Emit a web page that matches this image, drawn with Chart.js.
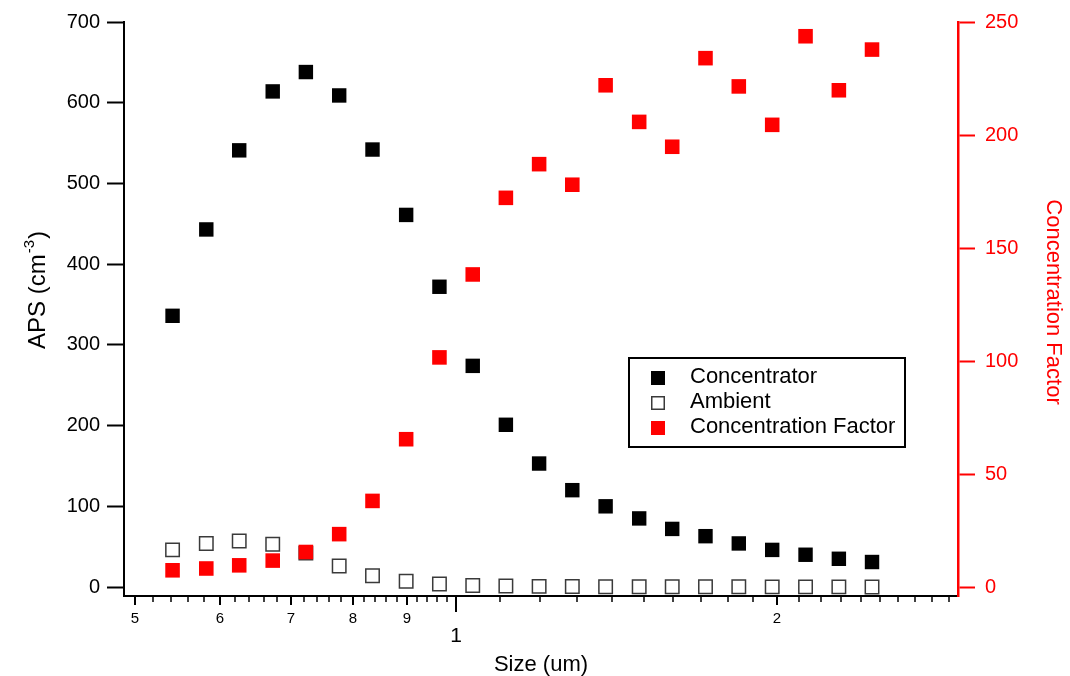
<!DOCTYPE html>
<html>
<head>
<meta charset="utf-8">
<script src="https://cdn.jsdelivr.net/npm/chart.js@4/dist/chart.umd.min.js"></script>
<style>
  html, body { margin: 0; padding: 0; background: #fff; }
  #wrap { width: 1070px; height: 676px; position: relative; }
</style>
</head>
<body>
<div id="wrap"><canvas id="c" width="1070" height="676"></canvas></div>
<script>
// Aerodynamic size channels (um)
const sizes = [0.542, 0.583, 0.626, 0.673, 0.723, 0.777, 0.835, 0.898, 0.965, 1.037, 1.114,
               1.197, 1.286, 1.382, 1.486, 1.596, 1.715, 1.843, 1.981, 2.129, 2.288, 2.458];
// Number concentrations (cm^-3)
const concentrator = [336, 443, 541, 614, 638, 609, 542, 461, 372, 274, 201,
                      153, 120, 100, 85, 72, 63, 54, 46, 40, 35, 31];
const ambient = [46, 54, 57, 53, 42, 26, 14, 7.1, 3.7, 2.0, 1.17,
                 0.82, 0.67, 0.45, 0.41, 0.37, 0.27, 0.24, 0.22, 0.16, 0.16, 0.13];
// Concentrator / ambient ratio
const concFactor = [7.4, 8.2, 9.6, 11.7, 15.5, 23.4, 38.1, 65.4, 101.6, 138.3, 172.2,
                    187.1, 178.0, 222.0, 205.8, 194.8, 234.0, 221.5, 204.5, 243.7, 219.8, 237.8];

// Axis tick values and labels
const apsTicks = [0, 100, 200, 300, 400, 500, 600, 700];
const factorTicks = [0, 50, 100, 150, 200, 250];
const sizeTickLabels = [[0.5, '5'], [0.6, '6'], [0.7, '7'], [0.8, '8'], [0.9, '9'], [1, '1'], [2, '2']];

const FONT = '"Liberation Sans", Arial, Helvetica, sans-serif';
const RED = '#ff0000';

// minor ticks on the log size axis: 0.02 steps below 1, 0.1 steps above
const sizeMinorTicks = [];
for (let i = 26; i < 50; i++) sizeMinorTicks.push(i / 50);
for (let i = 11; i < 30; i++) sizeMinorTicks.push(i / 10);

const toXY = (ys) => sizes.map((x, i) => ({ x: x, y: ys[i] }));

// Draws the log-size axis ticks, axis titles and the boxed legend
const decorations = {
  id: 'decorations',
  afterDraw(chart) {
    const ctx = chart.ctx;
    const xs = chart.scales.x;
    const area = chart.chartArea;
    const axisY = area.bottom;
    ctx.save();

    // size axis ticks
    ctx.strokeStyle = '#000';
    const labelled = sizeTickLabels.map(d => d[0]);
    sizeMinorTicks.forEach(v => {
      if (labelled.some(l => Math.abs(l - v) < 1e-6)) return;
      const px = Math.round(xs.getPixelForValue(v));
      ctx.lineWidth = 1.5;
      ctx.beginPath(); ctx.moveTo(px, axisY); ctx.lineTo(px, axisY + 6); ctx.stroke();
    });
    sizeTickLabels.forEach(([v, t]) => {
      const px = Math.round(xs.getPixelForValue(v));
      const big = (v === 1);
      ctx.lineWidth = 2;
      ctx.beginPath(); ctx.moveTo(px, axisY); ctx.lineTo(px, axisY + (big ? 16 : 9)); ctx.stroke();
      ctx.fillStyle = '#000';
      ctx.textAlign = 'center';
      ctx.textBaseline = 'alphabetic';
      ctx.font = (big ? 21 : 15) + 'px ' + FONT;
      ctx.fillText(t, px, big ? 642 : 623);
    });

    // bottom title
    ctx.font = '22px ' + FONT;
    ctx.fillStyle = '#000';
    ctx.textAlign = 'center';
    ctx.fillText('Size (um)', (area.left + area.right) / 2, 671);

    // left title with superscript
    ctx.save();
    ctx.translate(45, 291);
    ctx.rotate(-Math.PI / 2);
    ctx.textAlign = 'left';
    const partA = 'APS (cm', sup = '-3', partB = ')';
    ctx.font = '24px ' + FONT;
    const wA = ctx.measureText(partA).width, wB = ctx.measureText(partB).width;
    ctx.font = '15px ' + FONT;
    const wS = ctx.measureText(sup).width;
    let x0 = -(wA + wS + wB) / 2;
    ctx.font = '24px ' + FONT;
    ctx.fillText(partA, x0, 0);
    ctx.font = '15px ' + FONT;
    ctx.fillText(sup, x0 + wA + 1, -11);
    ctx.font = '24px ' + FONT;
    ctx.fillText(partB, x0 + wA + wS + 2, 0);
    ctx.restore();

    // right title
    ctx.save();
    ctx.translate(1047, 302);
    ctx.rotate(Math.PI / 2);
    ctx.textAlign = 'center';
    ctx.fillStyle = RED;
    ctx.font = '22px ' + FONT;
    ctx.fillText('Concentration Factor', 0, 0);
    ctx.restore();

    // legend box
    const box = { x: 629, y: 358, w: 276, h: 89 };
    ctx.lineWidth = 2;
    ctx.strokeStyle = '#000';
    ctx.strokeRect(box.x, box.y, box.w, box.h);
    const rows = [377, 402, 427];
    chart.data.datasets.forEach((ds, i) => {
      const cy = rows[i] + 1;
      const cx = 658;
      if (ds.borderWidth > 0) {
        const s = 12.5;
        ctx.lineWidth = ds.borderWidth;
        ctx.strokeStyle = ds.borderColor;
        ctx.strokeRect(cx - s / 2, cy - s / 2, s, s);
      } else {
        const s = 14;
        ctx.fillStyle = ds.backgroundColor;
        ctx.fillRect(cx - s / 2, cy - s / 2, s, s);
      }
      ctx.fillStyle = '#000';
      ctx.font = '22px ' + FONT;
      ctx.textAlign = 'left';
      ctx.textBaseline = 'middle';
      ctx.fillText(ds.label, 690, rows[i]);
    });
    ctx.restore();
  }
};

new Chart(document.getElementById('c'), {
  type: 'scatter',
  data: {
    datasets: [
      { label: 'Concentrator', data: toXY(concentrator), yAxisID: 'y', order: 2,
        pointStyle: 'rect', pointRadius: 10.2, backgroundColor: '#000', borderWidth: 0 },
      { label: 'Ambient', data: toXY(ambient), yAxisID: 'y', order: 1,
        pointStyle: 'rect', pointRadius: 9.5, backgroundColor: 'rgba(255,255,255,0)',
        borderColor: '#3a3a3a', borderWidth: 1.5 },
      { label: 'Concentration Factor', data: toXY(concFactor), yAxisID: 'y1', order: 0,
        pointStyle: 'rect', pointRadius: 10.3, backgroundColor: RED, borderWidth: 0 }
    ]
  },
  options: {
    responsive: false,
    animation: false,
    events: [],
    layout: { padding: { top: 20, left: 0, right: 0, bottom: 0 } },
    plugins: { legend: { display: false }, tooltip: { enabled: false } },
    scales: {
      x: {
        type: 'logarithmic', position: 'bottom', min: 0.488, max: 2.96,
        grid: { display: false },
        border: { display: true, color: '#000', width: 2 },
        ticks: { display: false },
        afterFit: s => { s.height = 80; }
      },
      y: {
        type: 'linear', position: 'left', min: -11.11, max: 700,
        afterBuildTicks: s => { s.ticks = apsTicks.map(v => ({ value: v })); },
        grid: { drawOnChartArea: false, drawTicks: true, tickLength: 17, tickWidth: 2, tickColor: '#000' },
        border: { display: true, color: '#000', width: 2 },
        ticks: { color: '#000', padding: 7, font: { family: FONT, size: 20 } },
        afterFit: s => { s.width = 124; }
      },
      y1: {
        type: 'linear', position: 'right', min: -3.97, max: 250,
        afterBuildTicks: s => { s.ticks = factorTicks.map(v => ({ value: v })); },
        grid: { drawOnChartArea: false, drawTicks: true, tickLength: 17, tickWidth: 2, tickColor: RED },
        border: { display: true, color: RED, width: 2.5 },
        ticks: { color: RED, padding: 10, font: { family: FONT, size: 20 } },
        afterFit: s => { s.width = 112; }
      }
    }
  },
  plugins: [decorations]
});
</script>
</body>
</html>
